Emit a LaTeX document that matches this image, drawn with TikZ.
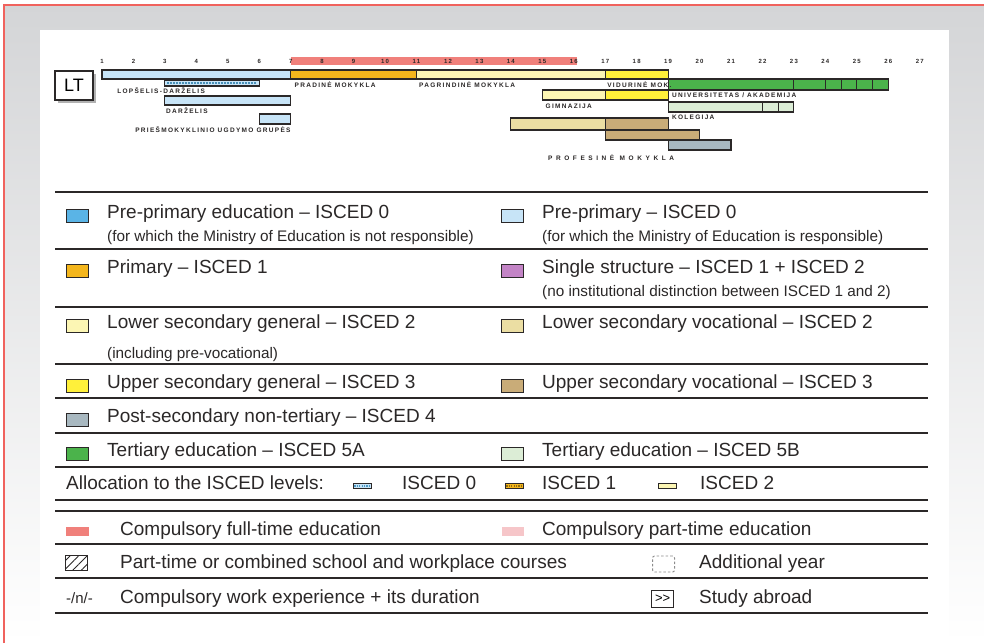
\documentclass[tikz,border=0pt]{standalone}
\usepackage{fontspec}
\setmainfont{Liberation Sans}
\newfontfamily\chartfont[LetterSpace=20]{Liberation Sans}
\newfontfamily\spacedfont[LetterSpace=55]{Liberation Sans}
\usepackage{tikz}
\usetikzlibrary{positioning,patterns.meta}
\definecolor{frame}{HTML}{F0625D}
\definecolor{bggray}{HTML}{D4D5D7}
\definecolor{ink}{HTML}{2B2828}
\definecolor{prepre}{HTML}{5AB4E6}
\definecolor{prepmoe}{HTML}{C7E4F7}
\definecolor{prim}{HTML}{F4B61C}
\definecolor{single}{HTML}{C384C6}
\definecolor{lowgen}{HTML}{FCF6B4}
\definecolor{lowvoc}{HTML}{EBDEA3}
\definecolor{uppgen}{HTML}{FFF03A}
\definecolor{uppvoc}{HTML}{C9AC78}
\definecolor{postsec}{HTML}{A8B8C0}
\definecolor{tertA}{HTML}{4BB34B}
\definecolor{tertB}{HTML}{DCEDD6}
\definecolor{compfull}{HTML}{F0807B}
\definecolor{comppart}{HTML}{F6C6C9}
\tikzset{agebar/.style={draw=ink,line width=1.1pt},
	 agenum/.style={font=\chartfont\bfseries\fontsize{6}{7}\selectfont,inner sep=0pt,text=ink},
	 lbl/.style={font=\chartfont\bfseries\fontsize{6.5}{7}\selectfont,inner sep=0pt,text=ink,anchor=west},
	 txt/.style={anchor=west,inner sep=0pt,text=ink,font=\fontsize{19}{22}\selectfont,text height=14pt,text depth=4pt},
	 subtxt/.style={anchor=west,inner sep=0pt,text=ink,font=\fontsize{15.3}{17}\selectfont,text height=11pt,text depth=3.5pt},
	 swatch/.style={draw=ink,line width=.8pt,minimum width=22pt,minimum height=13pt,inner sep=0pt,yshift=-2.5pt},
	 alloc/.style={draw=ink,line width=.7pt,minimum width=18pt,minimum height=5pt,inner sep=0pt},
	 rulethick/.style={draw=ink,line width=2.2pt},
	 rulethin/.style={draw=ink,line width=1.1pt},
	 node distance = 18pt
	 }

\begin{document}
\begin{tikzpicture}[x=1pt,y=-1pt]
	\useasboundingbox (0,0) rectangle (984,643);
	% page frame
	\shade[top color=bggray,middle color=bggray!80,bottom color=white] (3,4) rectangle (984,643);
	\fill[white] (40,30) rectangle (949,643);
	\draw[frame,line width=2pt] (3.5,643) -- (3.5,4.5) -- (984,4.5);

	% country box
	\fill[black!30] (58,74) rectangle (96,103);
	\node[draw=ink,fill=white,line width=1.2pt,minimum width=38pt,minimum height=29pt,inner sep=0pt,font=\fontsize{18}{18}\selectfont] (lt) at (74,85.5) {LT};

	% age chart
	\begin{scope}[xshift=70.55pt,x=31.45pt]
	\fill[compfull] (7,57) rectangle (16.1,65);
	\foreach \a in {1,...,27} \node[agenum] (age\a) at (\a,61) {\a};
	\draw[agebar,fill=prepmoe] (1,70) rectangle (7,79);
	\draw[agebar,fill=prim] (7,70) rectangle (11,79);
	\draw[agebar,fill=lowgen] (11,70) rectangle (17,79);
	\draw[agebar,fill=uppgen] (17,70) rectangle (19,79);
	\draw[agebar,fill=lowgen] (15,90) rectangle (17,100);
	\draw[agebar,fill=uppgen] (17,90) rectangle (19,100);
	\draw[agebar,fill=tertA] (19,79) rectangle (26,90);
	\foreach \d in {23,24,24.5,25,25.5} \draw[agebar] (\d,79) -- (\d,90);
	\draw[agebar,fill=tertB] (19,102) rectangle (23,112);
	\foreach \d in {22,22.5} \draw[agebar] (\d,102) -- (\d,112);
	\draw[agebar,fill=lowvoc] (14,118) rectangle (17,130);
	\draw[agebar,fill=uppvoc] (17,118) rectangle (19,130);
	\draw[agebar,fill=uppvoc] (17,130) rectangle (20,140);
	\draw[agebar,fill=postsec] (19,140) rectangle (21,150);
	\draw[agebar,fill=prepmoe] (3,80) rectangle (6,86);
	\draw[prepre!80!black,line width=2pt,dash pattern=on 1.5pt off 1.5pt] (3.08,83) -- (5.92,83);
	\draw[agebar,fill=prepmoe] (3,96) rectangle (7,105);
	\draw[agebar,fill=prepmoe] (6,114) rectangle (7,124);
	\node[lbl] (lopdar) at (1.48,91) {LOPŠELIS-DARŽELIS};
	\node[lbl] (dar) at (3.03,111) {DARŽELIS};
	\node[lbl,anchor=east] (priesm) at (7,130) {PRIEŠMOKYKLINIO UGDYMO GRUPĖS};
	\node[lbl] (prad) at (7.12,85) {PRADINĖ MOKYKLA};
	\node[lbl] (pagr) at (11.08,85) {PAGRINDINĖ MOKYKLA};
	\node[lbl] (vid) at (17.06,85) {VIDURINĖ MOK.};
	\node[lbl] (gimn) at (15.1,106) {GIMNAZIJA};
	\node[lbl] (univ) at (19.12,95) {UNIVERSITETAS / AKADEMIJA};
	\node[lbl] (koleg) at (19.12,117) {KOLEGIJA};
	\node[lbl,font=\spacedfont\bfseries\fontsize{6.5}{7}\selectfont] (prof) at (15.18,158) {PROFESINĖ MOKYKLA};
	\end{scope}

	% legend rules
	\foreach \y in {192,249,307,398,433,511,578,613} \draw[rulethick] (55,\y) -- (928,\y);
	\foreach \y in {364,467,500,544} \draw[rulethin] (55,\y) -- (928,\y);

	% legend, left column
	\node[txt] (pp0) at (107,213) {Pre-primary education -- ISCED 0};
	\node[swatch,fill=prepre,left=of pp0] (spp0) {};
	\node[subtxt] (pp0s) at (107,238) {(for which the Ministry of Education is not responsible)};
	\node[txt] (pr1) at (107,268) {Primary -- ISCED 1};
	\node[swatch,fill=prim,left=of pr1] (spr1) {};
	\node[txt] (lg2) at (107,323) {Lower secondary general -- ISCED 2};
	\node[swatch,fill=lowgen,left=of lg2] (slg2) {};
	\node[subtxt] (lg2s) at (107,354.5) {(including pre-vocational)};
	\node[txt] (ug3) at (107,383) {Upper secondary general -- ISCED 3};
	\node[swatch,fill=uppgen,left=of ug3] (sug3) {};
	\node[txt] (ps4) at (107,417) {Post-secondary non-tertiary -- ISCED 4};
	\node[swatch,fill=postsec,left=of ps4] (sps4) {};
	\node[txt] (t5a) at (107,451) {Tertiary education -- ISCED 5A};
	\node[swatch,fill=tertA,left=of t5a] (st5a) {};

	% legend, right column
	\node[txt] (pm0) at (542,213) {Pre-primary -- ISCED 0};
	\node[swatch,fill=prepmoe,left=of pm0] (spm0) {};
	\node[subtxt] (pm0s) at (542,238) {(for which the Ministry of Education is responsible)};
	\node[txt] (ss12) at (542,268) {Single structure -- ISCED 1 + ISCED 2};
	\node[swatch,fill=single,left=of ss12] (sss12) {};
	\node[subtxt] (ss12s) at (542,293) {(no institutional distinction between ISCED 1 and 2)};
	\node[txt] (lv2) at (542,323) {Lower secondary vocational -- ISCED 2};
	\node[swatch,fill=lowvoc,left=of lv2] (slv2) {};
	\node[txt] (uv3) at (542,383) {Upper secondary vocational -- ISCED 3};
	\node[swatch,fill=uppvoc,left=of uv3] (suv3) {};
	\node[txt] (t5b) at (542,451) {Tertiary education -- ISCED 5B};
	\node[swatch,fill=tertB,left=of t5b] (st5b) {};

	% allocation to ISCED levels
	\node[txt] (alloc) at (66,484) {Allocation to the ISCED levels:};
	\node[txt] (is0) at (402,484) {ISCED 0};
	\node[alloc,fill=prepmoe,left=30pt of is0,yshift=-2pt] (sis0) {};
	\draw[prepre!85!black,line width=2pt,dash pattern=on 1.2pt off 1.2pt] ([xshift=1pt]sis0.west) -- ([xshift=-1pt]sis0.east);
	\node[txt] (is1) at (542,484) {ISCED 1};
	\node[alloc,fill=prim,left=of is1,yshift=-2pt] (sis1) {};
	\draw[prim!60!black,line width=2pt,dash pattern=on 1.2pt off 1.2pt] ([xshift=1pt]sis1.west) -- ([xshift=-1pt]sis1.east);
	\node[txt] (is2) at (700,484) {ISCED 2};
	\node[alloc,fill=lowgen,left=23pt of is2,yshift=-2pt] (sis2) {};

	% compulsory education and other marks
	\node[txt] (cft) at (120,530) {Compulsory full-time education};
	\node[fill=compfull,minimum width=23pt,minimum height=9pt,inner sep=0pt,left=31pt of cft,yshift=-1pt] (scft) {};
	\node[txt] (cpt) at (542,530) {Compulsory part-time education};
	\node[fill=comppart,minimum width=22pt,minimum height=9pt,inner sep=0pt,left=of cpt,yshift=-1pt] (scpt) {};
	\node[txt] (ptc) at (120,563) {Part-time or combined school and workplace courses};
	\node[draw=ink,line width=.8pt,minimum width=22pt,minimum height=15pt,inner sep=0pt,
	      pattern={Lines[angle=45,distance=6pt,line width=1pt]},pattern color=ink,left=32pt of ptc] (sptc) {};
	\node[txt] (addy) at (699,563) {Additional year};
	\node[draw=black!45,line width=.9pt,dash pattern=on 2.5pt off 2pt,rounded corners=2pt,minimum width=22pt,minimum height=16pt,inner sep=0pt,left=24pt of addy,yshift=-1pt] (saddy) {};
	\node[txt] (cwe) at (120,598) {Compulsory work experience + its duration};
	\node[anchor=west,inner sep=0pt,text=ink,font=\fontsize{15}{17}\selectfont] (wn) at (66,598) {-/n/-};
	\node[txt] (abr) at (699,598) {Study abroad};
	\node[draw=ink,line width=.8pt,minimum width=22pt,minimum height=17pt,inner sep=0pt,font=\fontsize{13}{13}\selectfont,
	      left=25pt of abr,yshift=-1pt] (sabr) {{>}{>}};
\end{tikzpicture}
\end{document}
